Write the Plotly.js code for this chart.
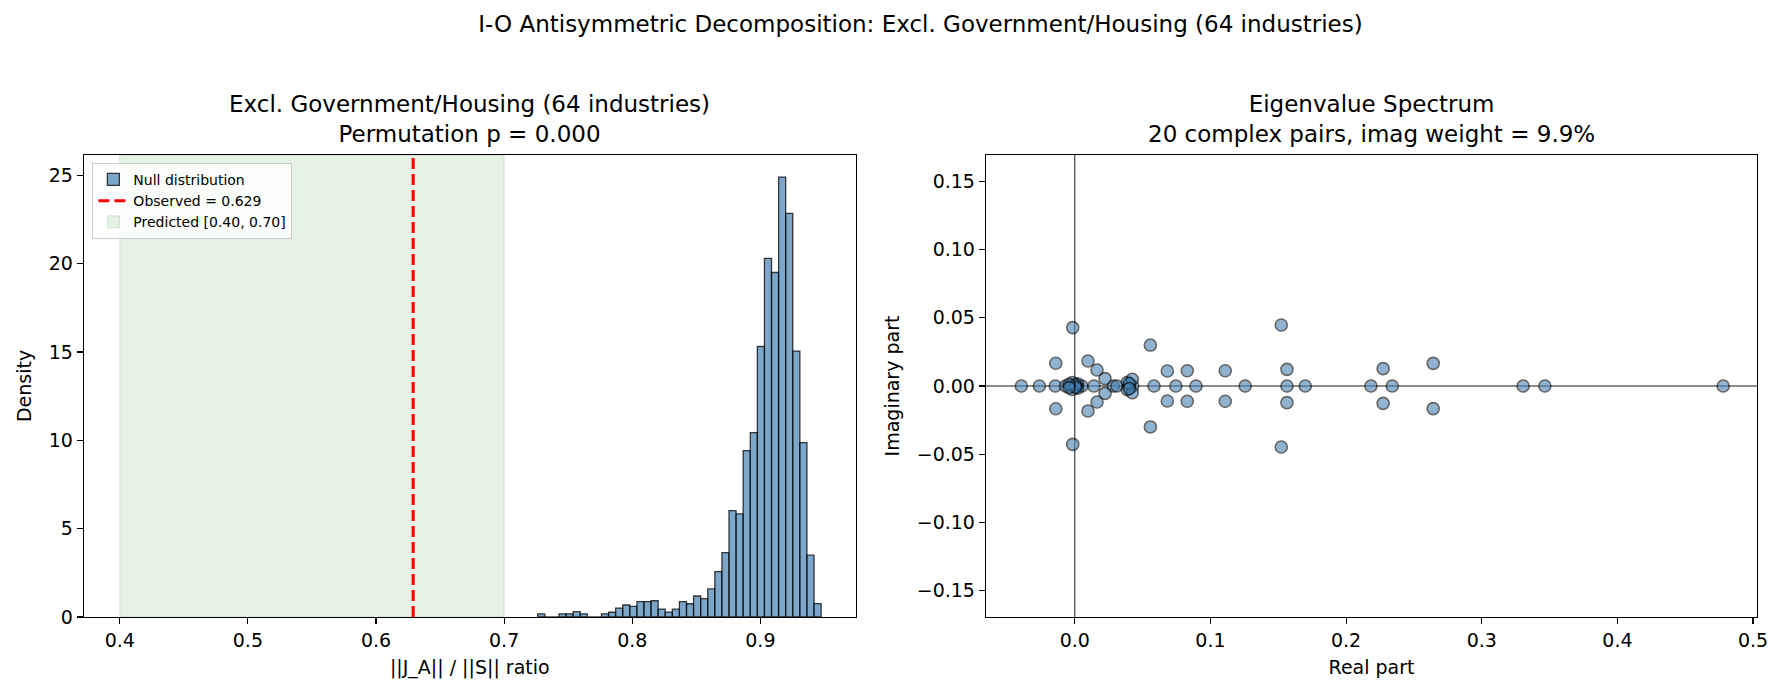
<!DOCTYPE html>
<html>
<head>
<meta charset="utf-8">
<script src="https://cdn.plot.ly/plotly-3.0.1.min.js"></script>
<style>
  html, body { margin: 0; padding: 0; background: #fff; }
  #chart { width: 1784px; height: 696px; }
</style>
</head>
<body>
<div id="chart"></div>
<script>
// null distribution histogram (density per bin), 40 equal bins
const binStart = 0.7262
const binWidth = 0.00553
const nullDensity = [
    0.18, 0, 0, 0.18, 0.18, 0.30, 0.18, 0, 0, 0.18,
    0.27, 0.50, 0.68, 0.60, 0.87, 0.87, 0.92, 0.45, 0.28, 0.45,
    0.87, 0.75, 1.19, 1.04, 1.59, 2.57, 3.64, 6.02, 5.84, 9.42,
    10.44, 15.31, 20.30, 19.50, 24.90, 22.85, 15.05, 9.87, 3.50, 0.76
]
const observed = 0.629
const predicted = [0.40, 0.70]

// eigenvalues (real, imaginary), 24 real + 20 conjugate pairs
const eigReal = [
    -0.0394, -0.0261, -0.0144, -0.0068, -0.0030, 0.0004, 0.0018, 0.0052,
    0.0141, 0.0284, 0.0310, 0.0400, 0.0427, 0.0584, 0.0745, 0.0893,
    0.1256, 0.1564, 0.1699, 0.2183, 0.2340, 0.3305, 0.3465, 0.4780,
    -0.0015, -0.0015, -0.0140, -0.0140, 0.0097, 0.0097, 0.0164, 0.0164,
    0.0223, 0.0223, 0.0557, 0.0557, 0.0682, 0.0682, 0.0829, 0.0829,
    0.0387, 0.0387, 0.0424, 0.0424, 0.1109, 0.1109, 0.1522, 0.1522,
    0.1564, 0.1564, 0.2273, 0.2273, 0.2642, 0.2642, 0.0021, 0.0021,
    -0.0018, -0.0018, 0.0006, 0.0006, -0.0042, -0.0042, 0.0402, 0.0402
]
const eigImag = [
    0, 0, 0, 0, 0, 0, 0, 0,
    0, 0, 0, 0, 0, 0, 0, 0,
    0, 0, 0, 0, 0, 0, 0, 0,
    0.0428, -0.0428, 0.0167, -0.0167, 0.0183, -0.0183, 0.0117, -0.0117,
    0.0054, -0.0054, 0.0300, -0.0300, 0.0110, -0.0110, 0.0112, -0.0112,
    0.0027, -0.0027, 0.0049, -0.0049, 0.0112, -0.0112, 0.0447, -0.0447,
    0.0122, -0.0122, 0.0127, -0.0127, 0.0166, -0.0166, 0.0016, -0.0016,
    0.0026, -0.0026, 0.0009, -0.0009, 0.0012, -0.0012, 0.0018, -0.0018
]

const suptitle = "I-O Antisymmetric Decomposition: Excl. Government/Housing (64 industries)"
const leftTitle = "Excl. Government/Housing (64 industries)<br>Permutation p = 0.000"
const rightTitle = "Eigenvalue Spectrum<br>20 complex pairs, imag weight = 9.9%"

const FONT = "DejaVu Sans, sans-serif"

const binCenters = nullDensity.map((_, i) => binStart + binWidth * (i + 0.5))

const traceHist = {
    x: binCenters,
    y: nullDensity,
    width: binWidth,
    type: "bar",
    name: "Null distribution",
    legendrank: 1,
    marker: {
        color: "rgba(70,130,180,0.7)",
        line: { color: "rgba(0,0,0,0.75)", width: 1.3 }
    },
    xaxis: "x",
    yaxis: "y"
}

const traceEig = {
    x: eigReal,
    y: eigImag,
    mode: "markers",
    type: "scatter",
    showlegend: false,
    marker: {
        size: 12,
        color: "steelblue",
        opacity: 0.6,
        line: { color: "black", width: 1.6 }
    },
    xaxis: "x2",
    yaxis: "y2"
}

const axisBase = {
    showline: true,
    mirror: true,
    linecolor: "black",
    linewidth: 1.3,
    ticks: "outside",
    ticklen: 6,
    tickwidth: 1.2,
    tickcolor: "black",
    showgrid: false,
    zeroline: false,
    tickfont: { family: FONT, size: 19, color: "black" },
    title: { font: { family: FONT, size: 19, color: "black" } }
}

const layout = {
    width: 1784,
    height: 696,
    margin: { l: 84, r: 27, t: 155, b: 79 },
    paper_bgcolor: "white",
    plot_bgcolor: "white",
    bargap: 0,
    font: { family: FONT, color: "black" },
    title: {
        text: suptitle,
        x: 0.5,
        xref: "paper",
        y: 1 - 24 / 696,
        yref: "container",
        yanchor: "middle",
        font: { family: FONT, size: 23, color: "black" }
    },
    xaxis: {
        ...axisBase,
        domain: [0, 0.4612],
        range: [0.3721, 0.9743],
        dtick: 0.1,
        tick0: 0,
        tickformat: ".1f",
        anchor: "y",
        title: { ...axisBase.title, text: "||J_A|| / ||S|| ratio", standoff: 10 }
    },
    yaxis: {
        ...axisBase,
        domain: [0, 1],
        range: [0, 26.15],
        dtick: 5,
        anchor: "x",
        title: { ...axisBase.title, text: "Density", standoff: 12 }
    },
    xaxis2: {
        ...axisBase,
        domain: [0.5392, 1],
        range: [-0.0654, 0.5029],
        dtick: 0.1,
        tick0: 0,
        tickformat: ".1f",
        anchor: "y2",
        title: { ...axisBase.title, text: "Real part", standoff: 10 }
    },
    yaxis2: {
        ...axisBase,
        domain: [0, 1],
        range: [-0.1693, 0.1693],
        dtick: 0.05,
        tick0: 0,
        tickformat: ".2f",
        anchor: "x2",
        title: { ...axisBase.title, text: "Imaginary part", standoff: 12 }
    },
    legend: {
        x: 0.005,
        y: 0.983,
        xanchor: "left",
        yanchor: "top",
        bgcolor: "rgba(255,255,255,0.8)",
        bordercolor: "#cccccc",
        borderwidth: 1,
        font: { family: FONT, size: 14, color: "black" },
        traceorder: "normal"
    },
    shapes: [
        {
            type: "rect",
            xref: "x", yref: "y domain",
            x0: predicted[0], x1: predicted[1], y0: 0, y1: 1,
            fillcolor: "rgba(0,128,0,0.1)",
            line: { color: "rgba(0,128,0,0.15)", width: 1 },
            layer: "below",
            showlegend: true,
            legendrank: 3,
            name: "Predicted [" + predicted[0].toFixed(2) + ", " + predicted[1].toFixed(2) + "]"
        },
        {
            type: "line",
            xref: "x", yref: "y domain",
            x0: observed, x1: observed, y0: 0, y1: 1,
            line: { color: "red", width: 3, dash: "11px,5px" },
            layer: "above",
            showlegend: true,
            legendrank: 2,
            name: "Observed = " + observed.toFixed(3)
        },
        {
            type: "line",
            xref: "x2 domain", yref: "y2",
            x0: 0, x1: 1, y0: 0, y1: 0,
            line: { color: "black", width: 0.9 },
            layer: "below"
        },
        {
            type: "line",
            xref: "x2", yref: "y2 domain",
            x0: 0, x1: 0, y0: 0, y1: 1,
            line: { color: "black", width: 0.9 },
            layer: "below"
        }
    ],
    annotations: [
        {
            text: leftTitle,
            xref: "paper", yref: "paper",
            x: 0.2306, y: 1,
            xanchor: "center", yanchor: "bottom",
            yshift: 6,
            showarrow: false,
            font: { family: FONT, size: 23, color: "black" }
        },
        {
            text: rightTitle,
            xref: "paper", yref: "paper",
            x: 0.7696, y: 1,
            xanchor: "center", yanchor: "bottom",
            yshift: 6,
            showarrow: false,
            font: { family: FONT, size: 23, color: "black" }
        }
    ]
}

Plotly.newPlot("chart", [traceHist, traceEig], layout, { staticPlot: true, displayModeBar: false })
</script>
</body>
</html>
